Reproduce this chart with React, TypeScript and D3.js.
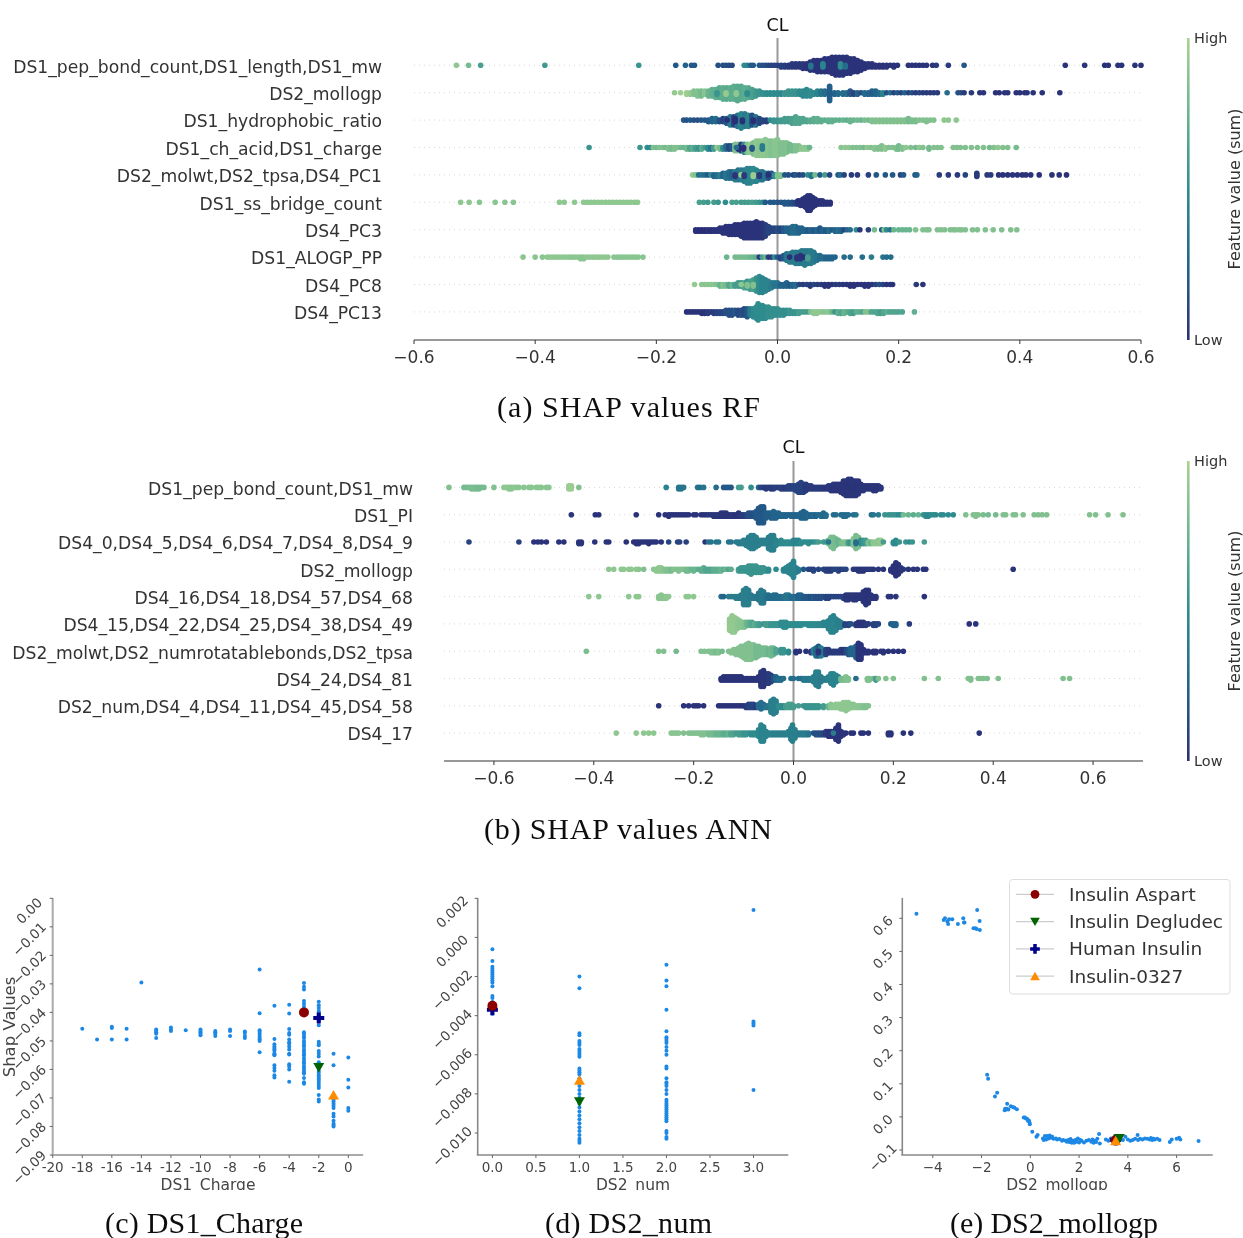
import React from "react";
import * as d3 from "d3";

// ---------- beeswarm stacks: [shap value, points stacked at that value, feature value 0..1]
type S = [number, number, number];
const rfLabels = ["DS1_pep_bond_count,DS1_length,DS1_mw","DS2_mollogp","DS1_hydrophobic_ratio","DS1_ch_acid,DS1_charge","DS2_molwt,DS2_tpsa,DS4_PC1","DS1_ss_bridge_count","DS4_PC3","DS1_ALOGP_PP","DS4_PC8","DS4_PC13"];
const annLabels = ["DS1_pep_bond_count,DS1_mw","DS1_PI","DS4_0,DS4_5,DS4_6,DS4_7,DS4_8,DS4_9","DS2_mollogp","DS4_16,DS4_18,DS4_57,DS4_68","DS4_15,DS4_22,DS4_25,DS4_38,DS4_49","DS2_molwt,DS2_numrotatablebonds,DS2_tpsa","DS4_24,DS4_81","DS2_num,DS4_4,DS4_11,DS4_45,DS4_58","DS4_17"];

const rf0: S[] = [[-.53,1,.9],[-.51,1,.8],[-.49,1,.62],[-.384,1,.58],[-.229,1,.55],[-.168,1,.2],[-.152,1,.25],[-.142,1,.2],[-.137,1,.2],[-.098,1,.15],[-.09,1,.15],[-.085,1,.15],[-.08,1,.12],[-.075,1,.12],[-.055,1,.5],[-.05,1,.45],[-.044,1,.2],[-.04,1,.2],[-.03,1,.2],[-.025,1,.15],[-.02,1,.15],[-.015,1,.1],[-.01,1,.1],[-.005,1,.1],[0,1,.08],[.006,2,.08],[.012,2,.06],[.018,2,.04],[.024,3,.04],[.03,3,.03],[.036,3,.03],[.042,4,.03],[.048,4,.02],[.054,6,.02],[.06,7,.02],[.066,8,.02],[.072,8,.02],[.078,9,.02],[.084,9,.02],[.09,11,.02],[.096,12,.02],[.102,12,.02],[.108,12,.02],[.114,11,.02],[.12,10,.02],[.126,9,.02],[.132,8,.02],[.138,6,.02],[.144,4,.02],[.15,3,.02],[.156,3,.02],[.162,2,.02],[.168,2,.02],[.174,2,.02],[.18,2,.03],[.186,1,.02],[.192,2,.02],[.198,1,.02],[.216,1,.02],[.222,1,.02],[.228,1,.02],[.234,1,.02],[.24,1,.02],[.246,1,.02],[.256,1,.03],[.262,1,.05],[.282,1,.05],[.308,1,.2],[.475,1,.02],[.507,1,.02],[.54,1,.02],[.546,1,.02],[.562,1,.02],[.568,1,.02],[.59,1,.02],[.6,1,.02],[.075,3,.45],[.104,3,.5],[.055,2,.35],[.112,2,.3]];
const rf1: S[] = [[-.17,1,.92],[-.16,1,.96],[-.15,2,.96],[-.144,2,.92],[-.138,3,.85],[-.132,4,.85],[-.126,4,.8],[-.12,3,.88],[-.114,4,.75],[-.108,5,.72],[-.102,6,.7],[-.096,7,.68],[-.09,8,.7],[-.084,8,.68],[-.078,8,.7],[-.072,9,.7],[-.066,10,.68],[-.06,9,.68],[-.054,8,.7],[-.048,7,.68],[-.042,6,.62],[-.036,4,.58],[-.03,3,.55],[-.024,2,.52],[-.018,2,.5],[-.012,2,.5],[-.006,2,.5],[0,2,.5],[.006,2,.48],[.012,2,.55],[.018,3,.55],[.024,3,.55],[.03,3,.55],[.036,3,.5],[.042,4,.48],[.048,5,.48],[.054,4,.5],[.06,2,.48],[.066,3,.45],[.072,3,.35],[.078,3,.3],[.086,10,.22],[.094,2,.25],[.1,2,.3],[.108,2,.3],[.114,2,.3],[.12,3,.18],[.126,2,.1],[.132,2,.25],[.138,1,.15],[.144,2,.28],[.15,2,.25],[.156,3,.22],[.162,3,.25],[.168,2,.3],[.174,2,.45],[.18,1,.15],[.186,1,.3],[.192,1,.1],[.198,1,.2],[.204,1,.1],[.21,1,.25],[.216,1,.1],[.222,1,.15],[.228,1,.05],[.234,1,.1],[.24,1,.05],[.246,1,.05],[.252,1,.05],[.258,1,.05],[.264,1,.05],[.28,1,.3],[.298,1,.15],[.303,1,.15],[.308,1,.05],[.32,1,.05],[.334,1,.03],[.34,1,.03],[.36,1,.02],[.366,1,.02],[.375,1,.02],[.38,1,.02],[.394,1,.02],[.4,1,.02],[.408,1,.02],[.412,1,.02],[.422,1,.02],[.437,1,.02],[.466,1,.02],[-.085,2,.92],[-.068,2,.9],[-.1,2,.55],[-.05,2,.5]];
const rf2: S[] = [[-.155,1,.2],[-.15,1,.15],[-.144,1,.2],[-.138,1,.15],[-.132,1,.15],[-.126,1,.2],[-.12,1,.2],[-.114,2,.2],[-.108,3,.25],[-.102,3,.3],[-.096,2,.15],[-.09,3,.1],[-.084,4,.2],[-.078,6,.4],[-.072,6,.1],[-.066,8,.35],[-.06,10,.45],[-.054,9,.4],[-.048,8,.45],[-.042,7,.15],[-.036,6,.35],[-.03,4,.1],[-.024,2,.1],[-.018,2,.08],[-.012,1,.5],[-.006,2,.55],[0,2,.55],[.006,2,.58],[.012,3,.6],[.018,3,.6],[.024,4,.62],[.03,5,.65],[.036,4,.65],[.042,3,.65],[.048,2,.65],[.054,2,.68],[.06,3,.7],[.066,3,.72],[.072,2,.7],[.078,1,.7],[.084,2,.72],[.09,2,.72],[.096,1,.72],[.102,1,.72],[.108,1,.75],[.114,1,.72],[.12,2,.75],[.126,1,.75],[.132,1,.78],[.138,1,.75],[.144,1,.82],[.15,1,.8],[.156,2,.85],[.162,2,.85],[.168,2,.85],[.174,2,.85],[.18,2,.85],[.186,2,.85],[.192,2,.85],[.198,2,.85],[.204,2,.85],[.21,2,.85],[.216,3,.8],[.222,2,.82],[.228,2,.82],[.234,1,.85],[.24,1,.85],[.246,2,.85],[.252,1,.85],[.258,1,.85],[.275,1,.9],[.282,1,.9],[.295,1,.9],[-.07,3,0],[-.058,2,0],[-.04,2,0],[-.083,1,0]];
const rf3: S[] = [[-.311,1,.55],[-.227,1,.55],[-.215,1,.5],[-.21,1,.5],[-.205,1,.85],[-.2,1,.8],[-.195,1,.85],[-.19,1,.85],[-.185,1,.8],[-.18,2,.85],[-.175,2,.8],[-.17,2,.85],[-.165,1,.85],[-.16,1,.8],[-.155,1,.75],[-.15,2,.8],[-.145,2,.65],[-.14,2,.7],[-.135,2,.6],[-.13,2,.55],[-.125,2,.7],[-.12,1,.6],[-.115,2,.5],[-.11,2,.35],[-.105,2,.6],[-.1,1,.9],[-.095,2,.8],[-.09,2,.5],[-.085,3,.3],[-.08,3,.1],[-.075,3,.2],[-.07,5,.85],[-.065,5,.85],[-.06,5,.05],[-.055,6,.5],[-.05,6,.85],[-.045,6,.92],[-.04,8,.85],[-.035,10,.9],[-.03,10,.88],[-.025,10,.9],[-.02,11,.9],[-.015,10,.88],[-.01,10,.85],[-.005,10,.88],[0,11,.88],[.005,8,.85],[.01,8,.85],[.015,7,.85],[.02,5,.8],[.025,4,.8],[.03,4,.85],[.035,3,.85],[.04,2,.9],[.045,2,.9],[.05,2,.9],[.053,1,.75],[.105,1,.88],[.112,1,.9],[.118,1,.9],[.124,1,.85],[.13,1,.85],[.136,1,.85],[.142,1,.8],[.148,1,.9],[.154,1,.85],[.16,2,.88],[.166,2,.85],[.172,3,.85],[.178,2,.9],[.184,1,.85],[.19,1,.85],[.196,2,.85],[.2,3,.8],[.206,2,.85],[.212,1,.9],[.22,1,.85],[.228,1,.8],[.234,1,.9],[.24,1,.85],[.25,2,.8],[.258,1,.85],[.264,1,.85],[.27,1,.85],[.29,1,.85],[.296,1,.85],[.302,1,.85],[.31,1,.85],[.32,1,.85],[.33,1,.85],[.34,1,.85],[.35,1,.8],[.357,1,.85],[.364,1,.9],[.372,1,.85],[.38,1,.85],[.394,1,.8],[-.065,2,0],[-.056,2,0],[-.068,1,.3],[-.025,3,.4],[-.042,2,.2]];
const rf4: S[] = [[-.14,1,.92],[-.135,1,.85],[-.13,1,.3],[-.125,1,.35],[-.12,1,.3],[-.115,1,.2],[-.11,1,.5],[-.105,2,.25],[-.1,2,.3],[-.095,2,.4],[-.09,3,.25],[-.085,4,.35],[-.08,5,.3],[-.075,5,.25],[-.07,6,.4],[-.065,7,.35],[-.06,7,.4],[-.055,8,.4],[-.05,10,.45],[-.045,10,.45],[-.04,9,.48],[-.035,8,.45],[-.03,6,.45],[-.025,6,.35],[-.02,4,.35],[-.015,4,.15],[-.01,3,.2],[-.005,2,.5],[0,2,.85],[.005,2,.85],[.012,1,.2],[.018,1,.15],[.026,1,.1],[.03,1,.2],[.036,1,.1],[.042,1,.15],[.05,1,.5],[.056,2,.35],[.062,1,.8],[.07,1,.2],[.078,1,.6],[.086,1,.1],[.1,1,.2],[.104,1,.3],[.11,1,.1],[.122,1,.05],[.132,1,.05],[.15,1,.08],[.163,1,.2],[.178,1,.2],[.19,1,.2],[.203,1,.1],[.208,1,.2],[.227,1,.2],[.23,1,.25],[.267,1,.05],[.282,1,.05],[.297,1,.05],[.31,1,.1],[.329,3,.05],[.346,1,.05],[.352,1,.05],[.365,1,.02],[.372,1,.02],[.38,1,.02],[.388,1,.02],[.396,1,.02],[.404,1,.02],[.41,1,.02],[.418,1,.02],[.432,1,.02],[.453,1,.02],[.465,1,.02],[.477,1,.02],[-.04,2,.95],[-.06,1,.95],[-.03,2,.05],[-.015,1,0],[-.055,2,.05],[-.07,2,.02]];
const rf5: S[] = [[-.523,1,.9],[-.509,1,.9],[-.492,1,.88],[-.466,1,.88],[-.45,1,.88],[-.436,1,.88],[-.36,1,.9],[-.352,1,.9],[-.335,1,.9],[-.32,1,.9],[-.314,1,.9],[-.308,1,.9],[-.302,1,.9],[-.296,1,.9],[-.29,1,.9],[-.284,1,.9],[-.278,1,.9],[-.272,1,.9],[-.266,1,.9],[-.26,1,.9],[-.254,1,.9],[-.248,1,.9],[-.242,1,.9],[-.236,1,.9],[-.231,1,.9],[-.129,1,.62],[-.122,1,.6],[-.115,1,.58],[-.105,1,.6],[-.098,1,.55],[-.086,1,.5],[-.075,1,.62],[-.068,1,.62],[-.06,1,.6],[-.054,1,.6],[-.048,1,.6],[-.042,1,.62],[-.036,1,.6],[-.03,1,.55],[-.024,1,.5],[-.02,1,.2],[-.012,1,.2],[-.006,1,.2],[0,1,.18],[.006,1,.18],[.012,2,.2],[.018,2,.2],[.024,2,.15],[.03,2,.1],[.034,3,.02],[.038,4,.02],[.042,5,.02],[.046,7,.02],[.05,10,.02],[.054,10,.02],[.058,7,.02],[.062,5,.02],[.066,3,.02],[.07,3,.02],[.074,3,.02],[.078,2,.02],[.082,2,.02],[.087,2,.02]];
const rf6: S[] = [[-.135,2,0],[-.13,2,0],[-.125,2,0],[-.12,2,0],[-.115,2,.02],[-.11,2,0],[-.105,2,.02],[-.1,2,.02],[-.095,3,.02],[-.09,4,.02],[-.085,5,.02],[-.08,6,.02],[-.075,6,.02],[-.07,7,.02],[-.065,7,.02],[-.06,8,.02],[-.055,10,.02],[-.05,10,.02],[-.045,10,.02],[-.04,10,.02],[-.035,11,.02],[-.03,10,.02],[-.025,10,.02],[-.02,8,.05],[-.015,5,.1],[-.01,3,.1],[-.005,3,.1],[0,3,.15],[.005,3,.1],[.01,3,.2],[.015,3,.25],[.02,4,.25],[.025,5,.3],[.03,5,.3],[.035,4,.25],[.04,3,.25],[.045,2,.25],[.05,2,.2],[.055,2,.25],[.06,2,.2],[.065,2,.25],[.07,3,.2],[.075,2,.25],[.08,2,.2],[.085,2,.3],[.09,1,.2],[.095,2,.25],[.1,2,.3],[.105,2,.25],[.11,1,.1],[.115,1,.25],[.12,1,.3],[.13,1,.5],[.136,1,.02],[.15,1,.05],[.16,1,.8],[.172,1,.2],[.176,1,.85],[.18,1,.5],[.186,1,.35],[.192,1,.75],[.2,1,.75],[.206,1,.75],[.212,1,.75],[.218,1,.75],[.228,1,.85],[.24,1,.85],[.246,1,.85],[.25,1,.85],[.264,1,.85],[.27,1,.85],[.276,1,.85],[.285,1,.85],[.29,1,.85],[.294,1,.85],[.3,1,.85],[.304,1,.85],[.31,1,.85],[.322,1,.85],[.33,1,.85],[.343,1,.85],[.356,1,.85],[.37,1,.85],[.385,1,.85],[.395,1,.85]];
const rf7: S[] = [[-.42,1,.88],[-.4,1,.88],[-.388,1,.88],[-.38,1,.9],[-.375,1,.9],[-.37,1,.9],[-.365,1,.9],[-.36,1,.9],[-.355,1,.9],[-.35,1,.9],[-.345,1,.9],[-.34,1,.88],[-.335,1,.88],[-.33,1,.9],[-.325,2,.88],[-.32,2,.88],[-.315,1,.9],[-.31,1,.9],[-.305,1,.9],[-.3,1,.9],[-.295,1,.9],[-.29,1,.9],[-.285,1,.9],[-.28,1,.9],[-.27,1,.88],[-.265,1,.88],[-.26,1,.88],[-.255,1,.88],[-.25,1,.88],[-.245,1,.88],[-.24,1,.88],[-.235,1,.88],[-.23,1,.88],[-.222,1,.88],[-.084,1,.75],[-.07,1,.8],[-.065,1,.8],[-.06,1,.8],[-.055,1,.8],[-.05,1,.8],[-.045,1,.75],[-.04,1,.75],[-.035,1,.7],[-.03,1,.05],[-.025,1,.6],[-.02,1,.75],[-.015,1,.05],[-.01,1,.05],[-.005,1,.5],[0,1,.2],[.005,2,.1],[.01,3,.2],[.015,5,.35],[.02,6,.4],[.025,7,.38],[.03,8,.4],[.035,8,.38],[.04,9,.38],[.045,10,.4],[.05,9,.38],[.055,9,.4],[.06,7,.38],[.065,4,.35],[.07,3,.3],[.075,2,.3],[.08,2,.25],[.085,2,.25],[.09,2,.25],[.095,1,.25],[.11,1,.3],[.12,1,.3],[.14,1,.3],[.155,1,.4],[.174,1,.35],[.18,1,.3],[.187,1,.3],[.032,2,.02],[.038,3,.02],[.02,1,0],[.043,1,0],[.05,2,.6]];
const rf8: S[] = [[-.137,1,.92],[-.125,1,.88],[-.12,1,.88],[-.115,1,.88],[-.11,1,.88],[-.105,1,.88],[-.1,1,.85],[-.095,2,.75],[-.09,2,.85],[-.085,2,.8],[-.08,2,.65],[-.075,2,.75],[-.07,2,.6],[-.065,3,.6],[-.06,3,.55],[-.055,4,.65],[-.05,5,.55],[-.045,6,.6],[-.04,7,.62],[-.035,9,.55],[-.03,11,.5],[-.025,10,.45],[-.02,8,.45],[-.015,6,.45],[-.01,4,.4],[-.005,3,.35],[0,3,.35],[.005,2,.25],[.01,2,.25],[.015,3,.25],[.02,2,.2],[.025,2,.25],[.03,2,.3],[.036,1,.1],[.042,1,.05],[.048,1,.1],[.054,2,.05],[.06,1,.1],[.066,1,.05],[.072,1,.05],[.078,2,.02],[.084,2,.02],[.09,1,.02],[.096,1,.05],[.102,1,.05],[.108,1,.02],[.114,1,.02],[.12,2,.02],[.126,2,.02],[.132,1,.02],[.138,1,.02],[.144,2,.02],[.15,2,.02],[.156,1,.02],[.162,1,.1],[.168,1,.15],[.174,1,.1],[.18,1,.02],[.186,1,.02],[.19,1,.02],[.229,1,.05],[.24,1,.02],[-.05,2,.85],[-.06,1,.9],[-.04,2,.85]];
const rf9: S[] = [[-.15,1,0],[-.145,1,.02],[-.14,1,.02],[-.135,1,.02],[-.13,1,.02],[-.125,2,.02],[-.12,2,.02],[-.115,2,.05],[-.11,1,.05],[-.105,2,.05],[-.1,2,.1],[-.095,2,.1],[-.09,2,.1],[-.085,3,.15],[-.08,4,.15],[-.075,4,.15],[-.07,3,.2],[-.065,4,.12],[-.06,4,.15],[-.055,5,.12],[-.05,6,.2],[-.045,5,.4],[-.04,6,.48],[-.035,8,.5],[-.032,11,.5],[-.025,9,.5],[-.02,8,.5],[-.015,7,.52],[-.01,6,.52],[-.005,5,.52],[0,5,.52],[.005,4,.52],[.01,4,.52],[.015,3,.52],[.02,3,.55],[.025,2,.55],[.03,2,.55],[.035,2,.6],[.04,1,.6],[.045,1,.6],[.05,1,.6],[.055,1,.85],[.06,2,.9],[.065,2,.9],[.07,1,.9],[.075,1,.88],[.08,1,.88],[.085,1,.88],[.09,1,.75],[.095,1,.55],[.1,2,.7],[.105,2,.65],[.11,2,.75],[.115,1,.7],[.12,2,.65],[.125,2,.6],[.13,1,.7],[.135,1,.7],[.14,1,.65],[.145,1,.85],[.15,1,.85],[.155,1,.65],[.16,1,.65],[.165,2,.65],[.17,2,.6],[.175,2,.65],[.18,1,.7],[.185,1,.65],[.19,1,.65],[.195,1,.65],[.2,1,.65],[.206,1,.65],[.226,1,.72]];

const ann0: S[] = [[-.69,1,.85],[-.66,1,.8],[-.655,1,.8],[-.65,1,.8],[-.645,2,.82],[-.64,2,.82],[-.635,2,.8],[-.63,2,.8],[-.625,1,.8],[-.62,1,.8],[-.6,1,.85],[-.58,1,.9],[-.575,1,.9],[-.57,2,.9],[-.565,2,.88],[-.56,1,.9],[-.555,1,.88],[-.55,1,.88],[-.54,1,.88],[-.53,1,.88],[-.525,1,.88],[-.515,1,.88],[-.51,1,.88],[-.505,1,.88],[-.495,1,.88],[-.49,1,.88],[-.45,3,.95],[-.445,3,.95],[-.43,1,.85],[-.255,1,.45],[-.23,2,.35],[-.225,2,.35],[-.22,1,.35],[-.192,1,.35],[-.187,1,.3],[-.18,1,.35],[-.155,1,.3],[-.14,1,.2],[-.135,1,.2],[-.13,1,.2],[-.125,1,.2],[-.11,1,.6],[-.105,1,.6],[-.085,1,.5],[-.07,1,.25],[-.065,1,.1],[-.06,1,.05],[-.055,2,.05],[-.05,1,.05],[-.045,2,.05],[-.04,2,.05],[-.035,1,.1],[-.03,1,.05],[-.025,2,.1],[-.02,2,.05],[-.015,2,.05],[-.01,3,.08],[-.005,3,.08],[0,3,.1],[.005,4,.1],[.01,6,.1],[.015,7,.1],[.02,6,.08],[.025,5,.05],[.03,3,.05],[.035,3,.05],[.04,2,.05],[.045,2,.05],[.05,2,.05],[.055,2,.05],[.06,2,.03],[.065,2,.03],[.07,3,.03],[.075,4,.03],[.08,5,.03],[.085,5,.03],[.09,5,.03],[.095,6,.03],[.1,9,.03],[.105,10,.03],[.11,11,.03],[.115,11,.03],[.12,10,.03],[.125,10,.03],[.13,9,.03],[.135,5,.03],[.14,4,.03],[.145,3,.03],[.15,3,.03],[.155,3,.03],[.16,4,.03],[.165,4,.03],[.17,3,.03],[.175,2,.03]];
const ann1: S[] = [[-.445,1,.03],[-.397,1,.02],[-.39,1,.02],[-.315,1,.02],[-.27,1,.02],[-.257,1,.02],[-.25,2,.02],[-.245,1,.02],[-.24,1,.02],[-.235,1,.02],[-.23,1,.02],[-.225,1,.02],[-.22,1,.02],[-.215,1,.02],[-.21,1,.02],[-.2,1,.02],[-.195,1,.02],[-.185,1,.02],[-.18,1,.02],[-.175,1,.02],[-.17,1,.03],[-.165,1,.03],[-.16,2,.03],[-.155,2,.03],[-.15,2,.03],[-.145,3,.02],[-.14,3,.02],[-.135,3,.02],[-.13,2,.02],[-.125,2,.03],[-.12,2,.03],[-.115,2,.02],[-.11,3,.02],[-.105,2,.05],[-.1,2,.05],[-.095,2,.1],[-.09,3,.15],[-.085,3,.15],[-.08,3,.15],[-.075,5,.2],[-.07,10,.2],[-.065,11,.2],[-.06,11,.2],[-.055,4,.22],[-.05,3,.22],[-.045,4,.22],[-.04,5,.25],[-.035,4,.25],[-.03,3,.25],[-.025,2,.25],[-.02,2,.25],[-.015,2,.25],[-.01,1,.25],[-.005,2,.25],[0,2,.25],[.005,2,.25],[.01,2,.25],[.015,4,.25],[.02,5,.25],[.025,4,.25],[.03,2,.28],[.035,2,.25],[.04,2,.28],[.045,2,.25],[.05,1,.28],[.055,2,.3],[.06,3,.28],[.065,2,.3],[.08,1,.3],[.085,1,.3],[.095,1,.3],[.1,2,.3],[.105,2,.3],[.11,1,.3],[.12,1,.3],[.125,1,.35],[.156,1,.3],[.16,1,.35],[.17,1,.4],[.183,1,.55],[.19,1,.55],[.195,1,.55],[.2,1,.55],[.205,1,.55],[.21,1,.5],[.215,1,.5],[.22,1,.8],[.23,1,.75],[.24,1,.7],[.25,1,.75],[.26,1,.55],[.265,2,.5],[.27,2,.48],[.275,1,.5],[.28,1,.5],[.285,1,.48],[.295,1,.5],[.3,1,.5],[.31,1,.5],[.32,1,.5],[.345,1,.85],[.36,1,.85],[.365,2,.85],[.37,1,.85],[.38,1,.82],[.39,1,.8],[.405,1,.8],[.42,1,.85],[.425,1,.85],[.44,1,.85],[.445,1,.85],[.46,1,.85],[.482,1,.85],[.49,1,.85],[.498,1,.85],[.507,1,.85],[.593,1,.85],[.605,1,.85],[.63,1,.85],[.66,1,.85]];
const ann2: S[] = [[-.65,1,.1],[-.55,1,.08],[-.52,1,.02],[-.512,1,.02],[-.505,1,.02],[-.495,1,.02],[-.47,1,.02],[-.46,1,.02],[-.43,2,.03],[-.425,2,.03],[-.398,1,.02],[-.375,1,.02],[-.37,1,.02],[-.335,1,.02],[-.32,1,.02],[-.315,2,.02],[-.31,2,.02],[-.305,1,.02],[-.3,1,.02],[-.295,1,.02],[-.29,2,.02],[-.285,1,.02],[-.28,1,.02],[-.275,1,.02],[-.265,1,.02],[-.25,1,.1],[-.232,1,.08],[-.228,1,.1],[-.215,1,.08],[-.177,1,.02],[-.17,1,.35],[-.165,1,.35],[-.155,1,.35],[-.15,1,.35],[-.13,1,.35],[-.125,1,.35],[-.115,1,.4],[-.11,2,.4],[-.105,2,.4],[-.1,3,.42],[-.095,4,.42],[-.09,7,.42],[-.085,9,.42],[-.08,9,.42],[-.075,7,.42],[-.07,4,.42],[-.065,3,.42],[-.06,3,.42],[-.055,3,.42],[-.05,8,.42],[-.045,10,.42],[-.04,10,.42],[-.035,4,.45],[-.03,2,.45],[-.025,3,.48],[-.02,2,.5],[-.015,2,.5],[-.01,2,.5],[-.005,2,.5],[0,3,.45],[.005,3,.45],[.01,3,.45],[.015,2,.5],[.02,1,.5],[.025,1,.5],[.03,2,.5],[.035,1,.5],[.04,1,.5],[.045,1,.55],[.05,1,.6],[.06,1,.6],[.065,1,.55],[.07,3,.75],[.075,7,.82],[.08,8,.82],[.085,5,.8],[.09,3,.75],[.095,2,.8],[.1,2,.85],[.105,2,.85],[.11,2,.6],[.115,2,.55],[.12,5,.85],[.125,9,.82],[.13,7,.82],[.135,3,.5],[.14,3,.55],[.145,3,.6],[.15,2,.85],[.155,2,.75],[.16,2,.9],[.165,2,.9],[.17,3,.9],[.175,3,.92],[.18,1,.6],[.2,2,.5],[.205,3,.5],[.212,1,.55],[.225,1,.55],[.232,1,.5],[.238,1,.55],[.262,1,.6],[.125,2,.3],[.07,1,.35]];
const ann3: S[] = [[-.37,1,.9],[-.36,1,.9],[-.345,1,.9],[-.34,1,.9],[-.33,1,.9],[-.325,1,.9],[-.315,1,.9],[-.31,1,.88],[-.3,1,.85],[-.28,1,.88],[-.275,2,.9],[-.27,3,.9],[-.265,3,.9],[-.26,2,.88],[-.255,2,.85],[-.25,2,.85],[-.245,2,.8],[-.24,1,.85],[-.235,1,.85],[-.23,2,.85],[-.225,1,.85],[-.22,1,.85],[-.215,2,.8],[-.21,2,.8],[-.205,1,.75],[-.2,2,.75],[-.195,1,.75],[-.19,1,.7],[-.185,2,.7],[-.18,3,.7],[-.175,2,.65],[-.17,2,.65],[-.165,2,.65],[-.16,2,.7],[-.155,2,.7],[-.15,2,.7],[-.145,2,.75],[-.14,1,.7],[-.135,1,.75],[-.13,1,.65],[-.125,1,.7],[-.11,2,.6],[-.105,3,.55],[-.1,3,.55],[-.095,3,.55],[-.09,5,.55],[-.085,6,.55],[-.08,5,.55],[-.075,5,.55],[-.07,4,.55],[-.065,4,.55],[-.06,3,.55],[-.055,2,.55],[-.05,2,.5],[-.035,1,.5],[-.02,2,.45],[-.015,3,.45],[-.01,5,.45],[-.005,7,.45],[0,11,.45],[.005,4,.45],[.01,2,.4],[.02,1,.2],[.03,1,.1],[.035,1,.1],[.04,2,.1],[.05,1,.1],[.06,1,.1],[.065,2,.08],[.07,2,.05],[.075,2,.05],[.08,1,.1],[.085,1,.1],[.09,2,.1],[.095,1,.05],[.1,1,.1],[.105,1,.1],[.12,1,.05],[.125,1,.05],[.13,2,.03],[.135,2,.03],[.14,2,.03],[.145,1,.03],[.15,1,.03],[.155,1,.05],[.16,1,.03],[.17,1,.03],[.18,1,.03],[.195,2,.03],[.2,5,.02],[.205,9,.02],[.21,7,.02],[.215,3,.03],[.22,1,.03],[.23,1,.03],[.24,1,.03],[.248,1,.03],[.26,1,.02],[.265,1,.02],[.44,1,.02]];
const ann4: S[] = [[-.41,1,.9],[-.39,1,.9],[-.33,1,.9],[-.315,1,.9],[-.31,1,.9],[-.27,2,.88],[-.265,3,.88],[-.26,2,.88],[-.255,2,.9],[-.25,1,.9],[-.215,1,.9],[-.21,1,.9],[-.2,1,.9],[-.145,1,.3],[-.14,1,.25],[-.13,1,.4],[-.125,1,.4],[-.12,1,.4],[-.115,2,.4],[-.11,2,.4],[-.105,3,.4],[-.1,10,.42],[-.095,11,.42],[-.09,10,.42],[-.085,3,.4],[-.08,2,.38],[-.075,2,.38],[-.07,5,.35],[-.065,9,.38],[-.06,8,.38],[-.055,3,.35],[-.05,3,.3],[-.045,2,.3],[-.04,3,.3],[-.035,3,.3],[-.03,2,.3],[-.025,2,.3],[-.02,2,.32],[-.015,3,.35],[-.01,3,.35],[-.005,2,.3],[0,2,.3],[.005,2,.3],[.01,3,.22],[.015,3,.25],[.02,2,.2],[.025,2,.2],[.03,2,.2],[.035,2,.15],[.04,2,.2],[.045,2,.15],[.05,2,.15],[.055,2,.15],[.06,1,.15],[.065,2,.1],[.07,2,.1],[.075,1,.1],[.08,1,.1],[.085,1,.1],[.09,1,.1],[.095,1,.1],[.1,2,.08],[.105,4,.03],[.11,4,.03],[.115,3,.03],[.12,4,.03],[.125,4,.03],[.13,3,.03],[.135,3,.03],[.14,7,.03],[.145,10,.02],[.15,9,.02],[.155,3,.03],[.16,2,.03],[.165,2,.03],[.19,1,.03],[.195,1,.03],[.205,1,.03],[.262,1,.02]];
const ann5: S[] = [[-.128,8,.92],[-.123,11,.92],[-.118,10,.92],[-.113,7,.9],[-.108,5,.88],[-.103,4,.88],[-.098,4,.85],[-.093,3,.75],[-.088,3,.7],[-.083,3,.65],[-.078,2,.7],[-.073,2,.65],[-.068,2,.6],[-.06,1,.55],[-.055,2,.6],[-.05,2,.6],[-.045,2,.55],[-.04,2,.55],[-.035,2,.55],[-.03,2,.55],[-.025,3,.5],[-.02,4,.5],[-.015,4,.5],[-.01,2,.5],[-.005,2,.5],[0,2,.5],[.005,2,.5],[.01,2,.5],[.015,2,.5],[.02,1,.5],[.025,1,.5],[.03,2,.5],[.035,2,.5],[.04,2,.5],[.045,2,.5],[.05,2,.48],[.055,2,.48],[.06,3,.45],[.065,3,.45],[.07,6,.45],[.075,10,.45],[.08,11,.45],[.085,8,.45],[.09,5,.42],[.095,4,.42],[.103,2,.1],[.11,2,.1],[.115,1,.15],[.125,2,.05],[.13,3,.03],[.135,3,.03],[.14,3,.03],[.145,2,.05],[.15,1,.05],[.16,2,.08],[.165,2,.1],[.17,1,.1],[.195,1,.2],[.2,2,.25],[.205,2,.25],[.232,1,.05],[.352,1,.02],[.365,1,.02]];
const ann6: S[] = [[-.415,1,.82],[-.27,1,.85],[-.26,1,.85],[-.235,1,.8],[-.185,1,.85],[-.178,1,.85],[-.17,1,.85],[-.165,2,.85],[-.16,2,.85],[-.155,2,.8],[-.15,2,.85],[-.143,1,.8],[-.13,1,.85],[-.125,2,.85],[-.12,3,.85],[-.115,4,.85],[-.11,5,.85],[-.105,7,.85],[-.1,8,.85],[-.095,10,.85],[-.09,11,.85],[-.085,10,.85],[-.08,9,.85],[-.075,8,.8],[-.07,7,.8],[-.065,5,.8],[-.06,5,.8],[-.055,5,.8],[-.05,4,.75],[-.045,6,.78],[-.04,5,.75],[-.035,3,.65],[-.025,3,.55],[-.02,3,.55],[-.01,2,.5],[.005,2,.02],[.012,1,.02],[.025,1,.02],[.035,2,.03],[.04,3,.4],[.045,6,.3],[.05,7,.2],[.055,6,.4],[.06,4,.4],[.065,4,.1],[.07,3,.05],[.075,2,.05],[.08,2,.05],[.085,2,.05],[.09,2,.05],[.095,3,.05],[.1,3,.02],[.105,3,.1],[.11,4,.2],[.115,5,.25],[.12,5,.25],[.125,8,.25],[.13,11,.02],[.135,10,.02],[.14,3,.02],[.145,2,.02],[.15,2,.02],[.16,2,.02],[.165,2,.02],[.175,1,.02],[.18,2,.02],[.19,1,.02],[.2,1,.02],[.21,1,.02],[.22,1,.02],[.05,2,.02]];
const ann7: S[] = [[-.145,2,.02],[-.14,3,.02],[-.135,3,.02],[-.13,3,.02],[-.125,3,.02],[-.12,3,.02],[-.115,3,.02],[-.11,3,.02],[-.105,3,.02],[-.1,2,.02],[-.095,2,.02],[-.09,2,.02],[-.085,2,.02],[-.08,2,.02],[-.075,2,.02],[-.07,3,.03],[-.065,10,.03],[-.06,11,.03],[-.055,7,.03],[-.05,7,.05],[-.045,5,.05],[-.04,3,.15],[-.035,3,.25],[-.03,2,.3],[-.025,2,.3],[-.02,1,.3],[-.005,1,.3],[0,1,.3],[.01,1,.3],[.015,1,.3],[.02,2,.35],[.025,2,.38],[.03,2,.35],[.035,2,.4],[.04,4,.42],[.045,9,.42],[.05,10,.42],[.055,4,.4],[.06,2,.4],[.065,2,.42],[.07,3,.42],[.075,7,.45],[.08,8,.45],[.085,5,.45],[.09,3,.45],[.095,2,.8],[.1,2,.8],[.105,3,.85],[.11,2,.85],[.125,1,.3],[.148,2,.85],[.152,2,.85],[.16,1,.8],[.165,2,.6],[.17,1,.85],[.185,1,.85],[.2,1,.85],[.262,1,.85],[.29,1,.85],[.35,1,.85],[.355,2,.85],[.37,1,.85],[.375,1,.85],[.38,1,.85],[.388,1,.85],[.41,1,.85],[.54,1,.85],[.553,1,.85]];
const ann8: S[] = [[-.27,1,.02],[-.22,1,.02],[-.21,1,.02],[-.2,1,.02],[-.195,1,.02],[-.19,1,.02],[-.18,1,.02],[-.15,1,.02],[-.145,1,.02],[-.14,1,.02],[-.135,1,.02],[-.13,1,.02],[-.125,1,.02],[-.12,1,.02],[-.115,1,.02],[-.11,1,.02],[-.105,1,.02],[-.1,1,.02],[-.095,2,.05],[-.09,3,.1],[-.085,3,.1],[-.08,3,.1],[-.075,2,.05],[-.07,3,.3],[-.065,5,.3],[-.06,3,.3],[-.055,2,.35],[-.05,2,.35],[-.045,8,.42],[-.04,10,.42],[-.035,8,.42],[-.03,2,.5],[-.025,2,.5],[-.02,2,.5],[-.015,2,.6],[-.01,3,.62],[-.005,3,.6],[0,2,.6],[.01,1,.6],[.02,1,.55],[.025,2,.55],[.03,2,.55],[.035,2,.55],[.04,2,.55],[.045,2,.55],[.05,2,.55],[.06,2,.6],[.07,2,.75],[.075,3,.88],[.08,2,.9],[.085,3,.9],[.09,3,.9],[.095,4,.9],[.1,5,.9],[.105,6,.9],[.11,5,.9],[.115,3,.9],[.12,3,.88],[.125,2,.9],[.13,2,.88],[.135,2,.88],[.14,2,.85],[.145,2,.85],[.15,1,.85]];
const ann9: S[] = [[-.355,1,.9],[-.315,1,.9],[-.3,1,.9],[-.29,1,.9],[-.28,1,.9],[-.245,1,.88],[-.24,1,.88],[-.235,1,.88],[-.23,1,.88],[-.22,1,.85],[-.21,1,.85],[-.205,1,.85],[-.2,1,.85],[-.195,1,.85],[-.19,1,.85],[-.185,2,.85],[-.18,2,.85],[-.175,1,.85],[-.17,2,.8],[-.165,2,.8],[-.16,2,.8],[-.155,2,.75],[-.15,2,.75],[-.145,2,.75],[-.14,2,.7],[-.135,2,.7],[-.13,2,.75],[-.125,2,.65],[-.12,2,.65],[-.115,1,.6],[-.11,2,.6],[-.105,2,.6],[-.1,2,.55],[-.095,2,.55],[-.09,1,.55],[-.085,2,.5],[-.08,2,.5],[-.075,2,.5],[-.07,5,.48],[-.065,11,.45],[-.06,10,.45],[-.055,4,.45],[-.05,2,.45],[-.045,2,.45],[-.04,2,.42],[-.035,2,.42],[-.03,2,.42],[-.025,2,.42],[-.02,2,.42],[-.015,2,.42],[-.01,3,.42],[-.005,8,.42],[-.002,11,.42],[.003,6,.42],[.01,2,.4],[.015,2,.4],[.02,2,.4],[.025,2,.4],[.03,2,.35],[.04,1,.15],[.045,2,.15],[.05,2,.15],[.055,2,.15],[.06,2,.1],[.065,3,.05],[.07,4,.02],[.075,4,.02],[.08,4,.02],[.085,8,.02],[.09,11,.02],[.095,4,.02],[.1,2,.02],[.105,1,.02],[.115,1,.02],[.12,1,.02],[.135,1,.02],[.14,1,.02],[.15,1,.02],[.19,2,.02],[.195,2,.02],[.22,1,.02],[.235,1,.02],[.372,1,.02],[.08,1,.4]];

const rfRows = [rf0,rf1,rf2,rf3,rf4,rf5,rf6,rf7,rf8,rf9];
const annRows = [ann0,ann1,ann2,ann3,ann4,ann5,ann6,ann7,ann8,ann9];

// ---------- dependence plots
const cX = [-18,-17,-16,-15,-14,-13,-12,-11,-10,-9,-8,-7,-6,-5,-4,-3,-2,-1,0];
const cY: number[][] = [[-.0457],[-.0495],[-.045,-.0455,-.0495],[-.0457,-.0495],[-.0295],[-.046,-.0465,-.047,-.0475,-.049],[-.0453,-.046,-.0465],[-.0463],[-.046,-.0465,-.047,-.0475,-.048],[-.0465,-.047,-.0475,-.0483],[-.046,-.0465,-.0483],[-.0467,-.0472,-.0483,-.049],[-.025,-.0403,-.0463,-.0468,-.0475,-.0483,-.049,-.0495,-.05,-.054],[-.0377,-.0493,-.0512,-.052,-.0525,-.053,-.0535,-.0545,-.0547,-.055,-.0585,-.0595,-.0605,-.062,-.0628],[-.0373,-.0404,-.0458,-.0472,-.0478,-.0495,-.0505,-.051,-.052,-.053,-.0545,-.0548,-.0582,-.059,-.06,-.0643],[-.0297,-.031,-.032,-.036,-.037,-.038,-.039,-.0395,-.047,-.0477,-.0485,-.049,-.05,-.0507,-.0515,-.052,-.053,-.0537,-.0545,-.055,-.056,-.0567,-.0575,-.058,-.059,-.0597,-.0605,-.061,-.0615,-.063,-.0645,-.065],[-.0363,-.0375,-.0385,-.0395,-.04,-.041,-.043,-.0445,-.0503,-.051,-.0515,-.0535,-.0545,-.0555,-.0575,-.0585,-.0595,-.0605,-.0612,-.062,-.0628,-.0635,-.0642,-.065,-.0658,-.0665,-.069,-.0705,-.0712],[-.0545,-.0585,-.069,-.0697,-.0705,-.0712,-.072,-.0727,-.0735,-.0755,-.0765,-.078,-.079,-.0795,-.08],[-.0558,-.0636,-.0663,-.0735,-.0745]];
const dX = [0,1,2,3];
const dY: number[][] = [[-.0006,-.0012,-.0015,-.0016,-.0017,-.0018,-.0019,-.002,-.0021,-.0022,-.0023,-.0025,-.003,-.0031,-.0033,-.0034,-.0036,-.0039],[-.002,-.0026,-.0049,-.005,-.0053,-.0054,-.0055,-.0057,-.0058,-.0059,-.006,-.0061,-.0067,-.0068,-.0069,-.007,-.0072,-.0076,-.0078,-.008,-.0082,-.0085,-.0087,-.0089,-.0091,-.0093,-.0095,-.0097,-.0099,-.0101,-.0103,-.0104,-.0105],[-.0014,-.0022,-.0025,-.0037,-.0048,-.0051,-.0052,-.0053,-.0054,-.0056,-.0058,-.006,-.0066,-.0067,-.0072,-.0074,-.0075,-.0076,-.0078,-.008,-.0083,-.0084,-.0085,-.0086,-.0087,-.0088,-.0089,-.009,-.0091,-.0092,-.0093,-.0094,-.0099,-.01,-.0102,-.0103],[.0014,-.0043,-.0044,-.0045,-.0078]];
const eX = [-4.67,-3.55,-3.5,-3.4,-3.37,-3.33,-3.2,-2.97,-2.75,-2.72,-2.7,-2.33,-2.25,-2.2,-2.18,-2.08,-2.07,-1.77,-1.73,-1.45,-1.36,-1.05,-1.03,-1,-.97,-.95,-.9,-.8,-.72,-.65,-.55,-.27,-.22,-.18,-.12,-.1,-.05,-.03,-.02,.08,.25,.3,.52,.55,.6,.65,.7,.75,.8,.85,.9,.95,1.05,1.1,1.2,1.3,1.35,1.45,1.5,1.55,1.6,1.65,1.7,1.75,1.8,1.85,1.9,1.95,2,2.05,2.1,2.2,2.3,2.4,2.5,2.55,2.6,2.65,2.7,2.75,2.82,2.85,3.1,3.2,3.3,3.4,3.7,3.8,3.9,4,4.1,4.2,4.3,4.4,4.42,4.5,4.6,4.7,4.8,4.9,4.95,5,5.05,5.1,5.2,5.3,5.72,5.8,6,6.1,6.15,6.9];
const eY = [.614,.595,.6,.59,.583,.597,.597,.583,.6,.587,.587,.57,.57,.568,.625,.592,.565,.127,.115,.062,.073,.02,.025,.022,.025,.04,.022,.032,.03,.028,.023,-.002,-.002,-.005,-.006,-.012,-.012,-.018,-.022,-.045,-.06,-.055,-.065,-.07,-.058,-.068,-.058,-.065,-.056,-.063,-.06,-.066,-.065,-.068,-.067,-.072,-.07,-.072,-.075,-.07,-.076,-.067,-.078,-.072,-.078,-.07,-.075,-.065,-.077,-.07,-.072,-.077,-.072,-.07,-.075,-.068,-.078,-.072,-.076,-.066,-.052,-.08,-.068,-.072,-.065,-.07,-.068,-.07,-.06,-.068,-.072,-.07,-.066,-.055,-.07,-.066,-.068,-.065,-.066,-.068,-.064,-.07,-.066,-.068,-.066,-.07,-.076,-.068,-.066,-.063,-.068,-.073];

const legendNames = ["Insulin Aspart","Insulin Degludec","Human Insulin","Insulin-0327"];
const cHighlightX = [-3,-2,-2,-1];
const cHighlightY = [-.04,-.0593,-.042,-.069];
const dHighlightX = [0,1,0,1];
const dHighlightY = [-.0035,-.0084,-.0037,-.0073];
const eHighlightX = [3.5,3.65,3.5,3.5];
const eHighlightY = [-.07,-.065,-.07,-.072];
const markerColors = ["#8b0000","#006400","#00008b","#ff8c00"];
const drawOrder = [2,0,1,3];

const rfTicks = [-.6,-.4,-.2,0,.2,.4,.6];
const annTicks = [-.6,-.4,-.2,0,.2,.4,.6];
const cXTicks = [-20,-18,-16,-14,-12,-10,-8,-6,-4,-2,0];
const cYTicks = [0,-.01,-.02,-.03,-.04,-.05,-.06,-.07,-.08,-.09];
const dXTicks = [0,.5,1,1.5,2,2.5,3];
const dYTicks = [.002,0,-.002,-.004,-.006,-.008,-.01];
const eXTicks = [-4,-2,0,2,4,6];
const eYTicks = [.6,.5,.4,.3,.2,.1,0,-.1];

const crest = d3.scaleLinear<string>().domain([0,.25,.5,.75,1]).range(["#2c2f78","#22648c","#2f8c8e","#68b58f","#a8d390"]);
const SANS = "DejaVu Sans, sans-serif";
const SERIF = "Liberation Serif, serif";
const TXT = "#333";
const minus = (s: string) => s.replace("-", "\u2212");

function Swarm({ rows, labels, ticks, x0, x1, domain, yAxis, rowY, rowStep, labelX, clTop, clLabelY, step }: any) {
  const x = d3.scaleLinear().domain(domain).range([x0, x1]);
  return (
    <g>
      <text x={x(0)} y={clLabelY} textAnchor="middle" fontSize={17.5} fontFamily={SANS} fill="#111">CL</text>
      {labels.map((l: string, i: number) => (
        <g key={l}>
          <line x1={x0} x2={x1} y1={rowY + i*rowStep} y2={rowY + i*rowStep} stroke="#ccc" strokeDasharray="1 4" strokeWidth={0.8} />
          <text x={labelX} y={rowY + i*rowStep + 7.3} textAnchor="end" fontSize={17.2} fontFamily={SANS} fill={TXT}>{l}</text>
        </g>
      ))}
      <line x1={x(0)} x2={x(0)} y1={clTop} y2={yAxis} stroke="#999" strokeWidth={2} />
      {rows.map((r: S[], i: number) => (
        <g key={i}>
          {r.flatMap((s: S, j: number) => d3.range(s[1]).map(k => {
            const off = ((k+1)>>1) * (k%2 ? 1 : -1) * step;
            return <circle key={j+"-"+k} cx={x(s[0])} cy={rowY + i*rowStep + off} r={2.8} fill={crest(s[2])} />;
          }))}
        </g>
      ))}
      <line x1={x0} x2={x1} y1={yAxis} y2={yAxis} stroke="#333" strokeWidth={1.2} />
      {ticks.map((t: number) => (
        <g key={t}>
          <line x1={x(t)} x2={x(t)} y1={yAxis} y2={yAxis+4} stroke="#333" />
          <text x={x(t)} y={yAxis+22.8} textAnchor="middle" fontSize={17} fontFamily={SANS} fill={TXT}>{minus(t.toFixed(1))}</text>
        </g>
      ))}
      <defs>
        <linearGradient id={"cb"+x0} x1="0" y1="1" x2="0" y2="0">
          {[0,.25,.5,.75,1].map(v => <stop key={v} offset={v} stopColor={crest(v)} />)}
        </linearGradient>
      </defs>
      <rect x={1187} y={clTop} width={2.6} height={yAxis-clTop} fill={`url(#cb${x0})`} />
      <text x={1194} y={clTop+5} fontSize={14.5} fontFamily={SANS} fill={TXT}>High</text>
      <text x={1194} y={yAxis+5} fontSize={14.5} fontFamily={SANS} fill={TXT}>Low</text>
      <text transform={`translate(1240,${(clTop+yAxis)/2}) rotate(-90)`} textAnchor="middle" fontSize={16} fontFamily={SANS} fill={TXT}>Feature value (sum)</text>
    </g>
  );
}

function Mark({ idx, cx, cy, s }: { idx: number; cx: number; cy: number; s: number }) {
  const c = markerColors[idx];
  if (idx === 0) return <circle cx={cx} cy={cy} r={s} fill={c} />;
  if (idx === 1) return <path transform={`translate(${cx},${cy}) scale(${s/5})`} d="M-5.5,-4.5L5.5,-4.5L0,5z" fill={c} />;
  if (idx === 3) return <path transform={`translate(${cx},${cy}) scale(${s/5})`} d="M-5.5,4.5L5.5,4.5L0,-5z" fill={c} />;
  return <path transform={`translate(${cx},${cy}) scale(${s/5})`} d="M-2,-5.5H2V-2H5.5V2H2V5.5H-2V2H-5.5V-2H-2z" fill={c} />;
}

function Scatter({ id, xDom, xR, yDom, yR, xTicks, yTicks, xFmt, yFmt, pts, hx, hy, xLabel, xLabelX, spine, sw, ldx, ldy }: any) {
  const x = d3.scaleLinear().domain(xDom).range(xR);
  const y = d3.scaleLinear().domain(yDom).range(yR);
  const [ax0, ax1] = [xR[0], xR[1]];
  return (
    <g>
      <clipPath id={"lab"+id}><rect x={ax0-60} y={1170} width={ax1-ax0+120} height={20} /></clipPath>
      <line x1={ax0} x2={ax0} y1={898} y2={1155} stroke={spine} strokeWidth={sw} />
      <line x1={ax0-1} x2={ax1} y1={1155} y2={1155} stroke={spine} strokeWidth={sw} />
      {xTicks.map((t: number) => (
        <g key={t}>
          <line x1={x(t)} x2={x(t)} y1={1155} y2={1158} stroke="#666" />
          <text x={x(t)} y={1172} textAnchor="middle" fontSize={13.5} fontFamily={SANS} fill="#444">{xFmt(t)}</text>
        </g>
      ))}
      {yTicks.map((t: number) => (
        <g key={t}>
          <line x1={ax0-3} x2={ax0} y1={y(t)} y2={y(t)} stroke="#666" />
          <text transform={`translate(${ax0+ldx},${y(t)+ldy}) rotate(-45)`} textAnchor="middle" dominantBaseline="middle" fontSize={13.5} fontFamily={SANS} fill="#444">{minus(yFmt(t))}</text>
        </g>
      ))}
      {pts.map((p: number[], i: number) => <circle key={i} cx={x(p[0])} cy={y(p[1])} r={2} fill="#1e88e5" />)}
      {drawOrder.map(i => <Mark key={i} idx={i} cx={x(hx[i])} cy={y(hy[i])} s={5} />)}
      <text x={xLabelX} y={1189.5} textAnchor="middle" fontSize={15.5} fontFamily={SANS} fill="#444" clipPath={`url(#lab${id})`}>{xLabel}</text>
    </g>
  );
}

const Caption = ({ x, w, y, t }: any) => (
  <text x={x} y={y} textLength={w} lengthAdjust="spacing" fontSize={30} fontFamily={SERIF} fill="#111">{t}</text>
);

export default function App() {
  const cPts = cX.flatMap((v, i) => cY[i].map(u => [v, u]));
  const dPts = dX.flatMap((v, i) => dY[i].map(u => [v, u]));
  const ePts = eX.map((v, i) => [v, eY[i]]);
  return (
    <svg width={1243} height={1238} style={{ position: "absolute", left: 0, top: 0, background: "#fff" }}>
      <defs><filter id="soft" x="0" y="0" width="1" height="1" filterUnits="objectBoundingBox"><feGaussianBlur stdDeviation="0.35" /></filter></defs>
      <g filter="url(#soft)">
      <rect width={1243} height={1238} fill="#fff" />
      <Swarm rows={rfRows} labels={rfLabels} ticks={rfTicks} x0={414} x1={1141} domain={[-.6,.6]} yAxis={340} rowY={65.3} rowStep={27.4} labelX={382} clTop={38} clLabelY={30.5} step={1.6} />
      <Caption x={497} w={263} y={417} t="(a) SHAP values RF" />
      <Swarm rows={annRows} labels={annLabels} ticks={annTicks} x0={444} x1={1143} domain={[-.7,.7]} yAxis={761} rowY={487.4} rowStep={27.3} labelX={413} clTop={461} clLabelY={452.5} step={1.6} />
      <Caption x={484} w={288} y={838.5} t="(b) SHAP values ANN" />

      <Scatter id="c" xDom={[-20,1]} xR={[52.7,363.1]} yDom={[0,-.09]} yR={[898.3,1155]} xTicks={cXTicks} yTicks={cYTicks} xFmt={(t: number) => String(t)} yFmt={(t: number) => t.toFixed(2)} pts={cPts} hx={cHighlightX} hy={cHighlightY} xLabel="DS1_Charge" xLabelX={208} spine="#aaa" sw={2} ldx={-23} ldy={13} />
      <text transform="translate(15,1027) rotate(-90)" textAnchor="middle" fontSize={16.5} fontFamily={SANS} fill="#444">Shap Values</text>
      <Caption x={105} w={198} y={1233} t="(c) DS1_Charge" />

      <Scatter id="d" xDom={[-.169,3.4]} xR={[477.7,788.3]} yDom={[.002,-.01]} yR={[898.3,1133]} xTicks={dXTicks} yTicks={dYTicks} xFmt={(t: number) => t.toFixed(1)} yFmt={(t: number) => t.toFixed(3)} pts={dPts} hx={dHighlightX} hy={dHighlightY} xLabel="DS2_num" xLabelX={633} spine="#888" sw={1.6} ldx={-25} ldy={14} />
      <Caption x={545} w={167} y={1233} t="(d) DS2_num" />

      <Scatter id="e" xDom={[-5.25,7.48]} xR={[902.3,1212.7]} yDom={[.6,-.1]} yR={[918.3,1150]} xTicks={eXTicks} yTicks={eYTicks} xFmt={(t: number) => String(t).replace("-", "\u2212")} yFmt={(t: number) => t.toFixed(1)} pts={ePts} hx={eHighlightX} hy={eHighlightY} xLabel="DS2_mollogp" xLabelX={1057} spine="#888" sw={1.6} ldx={-19} ldy={8} />
      <Caption x={950} w={208} y={1233} t="(e) DS2_mollogp" />

      <rect x={1009.5} y={879.5} width={220.5} height={114.5} rx={3} fill="#fff" stroke="#ddd" />
      {legendNames.map((n, i) => {
        const yy = 894.3 + i*27.3;
        return (
          <g key={n}>
            <line x1={1016} x2={1054} y1={yy} y2={yy} stroke="#ccc" strokeWidth={1.2} />
            <Mark idx={i} cx={1035} cy={yy} s={4.4} />
            <text x={1069} y={yy+6.5} fontSize={18.5} fontFamily={SANS} fill={TXT}>{n}</text>
          </g>
        );
      })}
      </g>
    </svg>
  );
}
